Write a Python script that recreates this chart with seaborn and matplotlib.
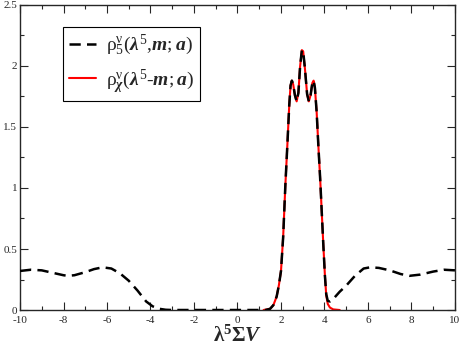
import numpy as np
import pandas as pd
import matplotlib
matplotlib.use("Agg")
import matplotlib.pyplot as plt
import seaborn as sns
from matplotlib.ticker import MultipleLocator, FuncFormatter

# black dashed curve: rho^v_5(lambda^5, m; a)
x_five = [-10.0, -9.5, -9.0, -8.5, -8.0, -7.8, -7.5, -7.0, -6.6, -6.2, -5.8, -5.4,
          -5.0, -4.6, -4.2, -3.9, -3.6, -3.3, -3.0, -2.0, -1.0, 0.0, 1.0, 1.3,
          1.5, 1.65, 1.8, 1.9, 2.0, 2.1, 2.2, 2.3, 2.38, 2.44, 2.5, 2.56, 2.64,
          2.72, 2.8, 2.88, 2.96, 3.02, 3.1, 3.2, 3.28, 3.36, 3.44, 3.5, 3.56,
          3.64, 3.72, 3.8, 3.88, 3.95, 4.02, 4.08, 4.15, 4.25, 4.4, 4.7, 5.0,
          5.4, 5.8, 6.1, 6.5, 7.0, 7.5, 7.9, 8.4, 9.0, 9.5, 10.0]
y_five = [0.32, 0.33, 0.325, 0.305, 0.285, 0.28, 0.285, 0.31, 0.335, 0.35, 0.34, 0.30,
          0.24, 0.16, 0.07, 0.03, 0.01, 0.002, 0.0, 0.0, 0.0, 0.0, 0.0, 0.0,
          0.01, 0.04, 0.11, 0.2, 0.32, 0.6, 1.02, 1.38, 1.68, 1.84, 1.88, 1.85, 1.76,
          1.71, 1.78, 2.0, 2.13, 2.12, 1.98, 1.77, 1.71, 1.76, 1.86, 1.88, 1.82,
          1.62, 1.34, 1.08, 0.78, 0.52, 0.28, 0.13, 0.075, 0.07, 0.09, 0.15, 0.2,
          0.28, 0.34, 0.35, 0.345, 0.325, 0.295, 0.28, 0.29, 0.315, 0.33, 0.325]

# red curve: rho^v_chi(lambda^5 - m; a)
x_chi = [1.2, 1.5, 1.65, 1.8, 1.9, 2.0, 2.1, 2.2, 2.3, 2.38, 2.44, 2.5, 2.56, 2.64,
         2.72, 2.8, 2.88, 2.96, 3.02, 3.1, 3.2, 3.28, 3.36, 3.44, 3.5, 3.56,
         3.64, 3.72, 3.8, 3.88, 3.95, 4.02, 4.08, 4.15, 4.25, 4.4, 4.7]
y_chi = [0.0, 0.01, 0.04, 0.11, 0.2, 0.32, 0.6, 1.02, 1.38, 1.68, 1.84, 1.88, 1.85, 1.76,
         1.71, 1.78, 2.0, 2.13, 2.12, 1.98, 1.77, 1.71, 1.76, 1.86, 1.88, 1.82,
         1.62, 1.34, 1.08, 0.78, 0.52, 0.28, 0.12, 0.05, 0.02, 0.005, 0.0]

df_five = pd.DataFrame({"x": x_five, "y": y_five})
df_chi = pd.DataFrame({"x": x_chi, "y": y_chi})

sns.set_style("ticks")
plt.rcParams["font.family"] = ["Liberation Serif", "DejaVu Serif"]
plt.rcParams["mathtext.fontset"] = "custom"
plt.rcParams["mathtext.rm"] = "Liberation Serif"
plt.rcParams["mathtext.it"] = "Liberation Serif:italic:bold"
plt.rcParams["mathtext.bf"] = "Liberation Serif:bold"

fig = plt.figure(figsize=(4.63, 3.56), dpi=100)
ax = fig.add_axes([0.0432, 0.1292, 0.9395, 0.8568])

sns.lineplot(data=df_chi, x="x", y="y", ax=ax, color="red", lw=1.5,
             sort=False, estimator=None, zorder=2,
             label=r"$\mathrm{\rho}^{\mathrm{\nu}}_{\chi}(\lambda^{5}\text{-}m;a)$")
sns.lineplot(data=df_five, x="x", y="y", ax=ax, color="black", lw=1.8,
             sort=False, estimator=None, zorder=3,
             label=r"$\mathrm{\rho}^{\mathrm{\nu}}_{5}(\lambda^{5}{,}m;a)$")
ax.lines[1].set_dashes([4.5, 2.5])

ax.set_xlim(-10, 10)
ax.set_ylim(0, 2.5)
ax.xaxis.set_major_locator(MultipleLocator(2))
ax.xaxis.set_minor_locator(MultipleLocator(1))
ax.yaxis.set_major_locator(MultipleLocator(0.5))
ax.yaxis.set_minor_locator(MultipleLocator(0.25))
ax.xaxis.set_major_formatter(FuncFormatter(lambda v, p: f"{v:g}"))
ax.yaxis.set_major_formatter(FuncFormatter(lambda v, p: f"{v:g}"))
ax.tick_params(which="both", direction="in", top=True, right=True, labelsize=8,
               labelfontfamily="Liberation Serif")
ax.tick_params(axis="x", pad=4)
ax.tick_params(axis="y", pad=2)
ax.tick_params(which="major", length=6, width=0.8)
ax.tick_params(which="minor", length=3, width=0.8)
for sp in ax.spines.values():
    sp.set_linewidth(1.0)

ax.set_ylabel("")
ax.set_xlabel(r"$\mathbf{\lambda^{5}\Sigma}\mathit{V}$", fontsize=15, labelpad=1)

h, l = ax.get_legend_handles_labels()
leg = ax.legend(h[::-1], l[::-1], loc="upper left", bbox_to_anchor=(0.099, 0.928),
                borderaxespad=0, fontsize=14, frameon=True, fancybox=False,
                framealpha=1, edgecolor="black", handlelength=1.4,
                handletextpad=0.5, borderpad=0.3, labelspacing=0.45)
leg.get_frame().set_linewidth(0.8)

fig.savefig("out.png", dpi=100)
